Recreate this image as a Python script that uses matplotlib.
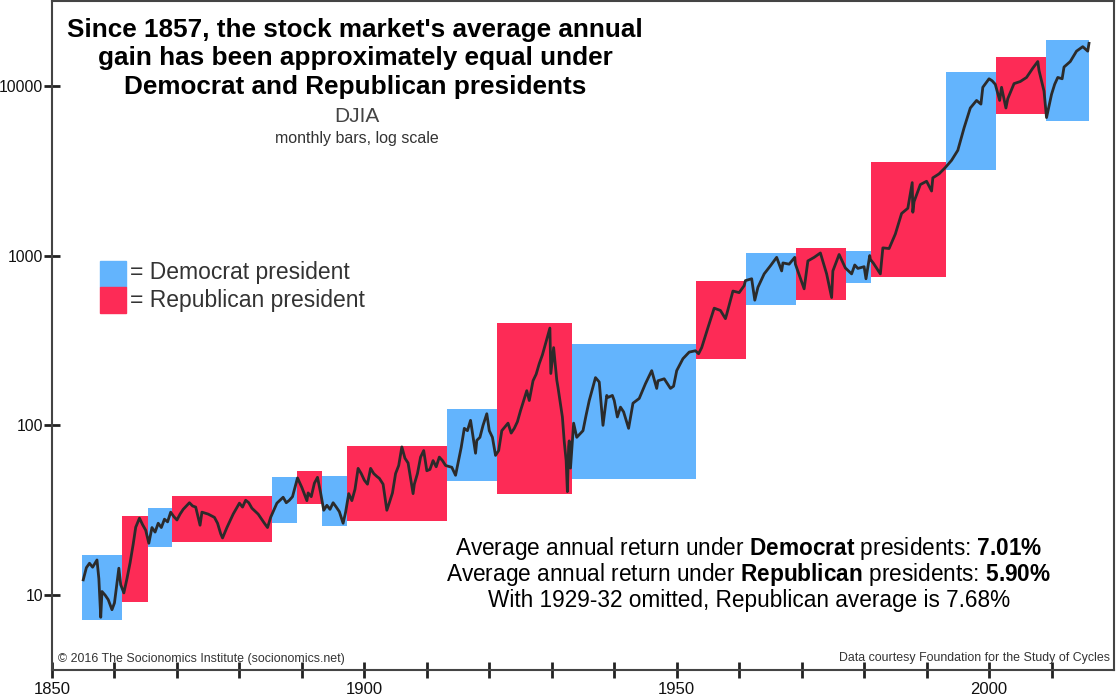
import matplotlib.pyplot as plt

plt.rcParams['font.family'] = ['Liberation Sans', 'DejaVu Sans']
plt.rcParams['mathtext.fontset'] = 'custom'
plt.rcParams['mathtext.rm'] = 'Liberation Sans'
plt.rcParams['mathtext.bf'] = 'Liberation Sans:bold'

# presidential terms (boxes span the DJIA range in each stretch of one party)
term_start = [1854.8, 1861.2, 1865.3, 1869.2, 1885.2, 1889.2, 1893.2, 1897.2, 1913.2, 1921.2,
              1933.2, 1953.1, 1961.1, 1969.1, 1977.1, 1981.1, 1993.1, 2001.1, 2009.1]
term_end = term_start[1:] + [2016.0]
party = ['D', 'R', 'D', 'R', 'D', 'R', 'D', 'R', 'D', 'R',
         'D', 'R', 'D', 'R', 'D', 'R', 'D', 'R', 'D']
term_low = [7.1, 9.1, 19.1, 20.5, 26.5, 34.3, 25.5, 27.3, 46.9, 39.3,
            48.2, 247, 509, 550, 694, 751, 3180, 6800, 6240]
term_high = [17.2, 29.2, 32.5, 38.2, 49.4, 53.5, 50, 76, 124, 398,
             303, 712, 1036, 1101, 1058, 3560, 12030, 14800, 18500]

# DJIA
djia_year = [1855.0, 1855.5, 1856.0, 1856.5, 1857.2, 1857.5, 1857.8, 1858.0, 1858.5, 1859.0,
             1859.6, 1860.0, 1860.7, 1861.0, 1861.5, 1862.0, 1862.5, 1863.0, 1863.4, 1864.0,
             1864.5, 1865.0, 1865.5, 1866.0, 1866.5, 1867.0, 1867.5, 1868.0, 1868.5, 1869.0,
             1869.5, 1870.0, 1870.5, 1871.0, 1872.0, 1872.5, 1873.0, 1873.7, 1874.0, 1875.0,
             1876.0, 1876.5, 1877.0, 1877.3, 1878.0, 1879.0, 1880.0, 1880.5, 1881.0, 1881.5,
             1882.0, 1883.0, 1884.0, 1884.5, 1885.0, 1886.0, 1887.0, 1887.5, 1888.0, 1888.5,
             1889.0, 1889.3, 1890.0, 1890.8, 1891.0, 1891.5, 1892.0, 1892.5, 1893.0, 1893.5,
             1894.0, 1894.5, 1895.0, 1895.5, 1896.0, 1896.6, 1897.0, 1897.5, 1898.0, 1898.5,
             1899.0, 1899.5, 1900.0, 1900.5, 1901.0, 1901.5, 1902.0, 1902.4, 1903.0, 1903.6,
             1904.0, 1904.5, 1905.0, 1905.5, 1906.0, 1906.5, 1907.0, 1907.8, 1908.0, 1908.5,
             1909.0, 1909.5, 1910.0, 1910.5, 1911.0, 1911.5, 1912.0, 1912.5, 1913.0, 1914.0,
             1914.6, 1915.0, 1915.5, 1916.0, 1916.5, 1917.0, 1917.8, 1918.0, 1918.5, 1919.0,
             1919.6, 1920.0, 1920.5, 1921.0, 1921.5, 1922.0, 1923.0, 1923.5, 1924.0, 1924.5,
             1925.0, 1925.5, 1926.0, 1926.4, 1927.0, 1927.5, 1928.0, 1928.5, 1929.0, 1929.7,
             1929.85, 1930.3, 1930.8, 1931.0, 1931.7, 1932.0, 1932.3, 1932.5, 1932.7, 1932.8,
             1933.0, 1933.5, 1934.0, 1935.0, 1935.5, 1936.0, 1937.0, 1937.6, 1938.2, 1938.8,
             1939.0, 1939.7, 1940.0, 1940.5, 1941.0, 1941.5, 1942.3, 1943.0, 1944.0, 1945.0,
             1946.0, 1946.8, 1947.0, 1948.0, 1949.0, 1949.5, 1950.0, 1951.0, 1952.0, 1953.0,
             1953.5, 1954.0, 1955.0, 1956.0, 1957.0, 1957.8, 1958.0, 1959.0, 1960.0, 1960.8,
             1961.0, 1962.0, 1962.5, 1963.0, 1964.0, 1965.0, 1966.0, 1966.8, 1967.0, 1968.0,
             1968.9, 1969.0, 1970.4, 1971.0, 1972.0, 1973.0, 1973.5, 1974.0, 1974.8, 1975.0,
             1976.0, 1977.0, 1978.0, 1978.5, 1979.0, 1980.0, 1980.3, 1980.9, 1981.0, 1981.5,
             1982.6, 1983.0, 1984.0, 1985.0, 1986.0, 1987.0, 1987.7, 1987.8, 1988.0, 1989.0,
             1990.0, 1990.8, 1991.0, 1992.0, 1993.0, 1994.0, 1995.0, 1996.0, 1997.0, 1998.0,
             1998.7, 1999.0, 2000.0, 2000.5, 2001.0, 2001.7, 2002.0, 2002.7, 2003.0, 2004.0,
             2005.0, 2006.0, 2007.0, 2007.8, 2008.0, 2008.8, 2009.2, 2010.0, 2010.5, 2011.0,
             2011.7, 2012.0, 2013.0, 2014.0, 2015.0, 2015.8, 2016.0]
djia_value = [12.3, 14.5, 15.4, 14.6, 16.1, 12.5, 7.4, 10.5, 10.0, 9.4,
              8.2, 9.0, 14.4, 11.5, 10.3, 12.5, 15.5, 20.0, 25.1, 28.4,
              26.0, 24.1, 20.2, 25.0, 23.5, 26.5, 25.0, 28.0, 27.0, 30.8,
              29.0, 27.7, 30.0, 32.0, 35.0, 33.5, 33.0, 25.8, 30.8, 30.0,
              28.7, 26.5, 23.0, 21.7, 25.0, 30.0, 34.8, 33.0, 36.2, 35.0,
              32.5, 30.0, 26.5, 25.0, 28.7, 34.8, 37.7, 35.0, 36.2, 38.0,
              44.4, 49.0, 43.0, 36.0, 40.0, 38.0, 45.6, 49.4, 40.0, 31.6,
              33.8, 32.0, 35.0, 33.0, 31.0, 26.5, 30.8, 39.6, 36.0, 42.0,
              55.8, 52.0, 47.5, 45.0, 55.8, 52.0, 50.0, 48.7, 45.0, 31.6,
              35.0, 40.0, 52.0, 58.0, 74.6, 64.0, 60.0, 39.6, 45.0, 52.0,
              65.0, 71.0, 54.0, 55.0, 62.0, 57.0, 65.0, 62.0, 58.0, 56.6,
              50.8, 60.0, 74.0, 96.0, 93.0, 107.0, 68.5, 81.5, 85.0, 100.0,
              117.0, 93.0, 85.0, 66.5, 71.0, 93.0, 103.0, 90.0, 96.0, 105.0,
              122.0, 140.0, 160.0, 140.0, 183.0, 200.0, 231.0, 260.0, 302.0, 374.0,
              202.0, 287.0, 185.0, 167.0, 112.0, 80.0, 62.0, 40.7, 75.0, 81.0,
              56.0, 103.0, 85.0, 93.0, 115.0, 140.0, 191.0, 180.0, 100.0, 150.0,
              146.0, 150.0, 140.0, 112.0, 128.0, 120.0, 96.0, 135.0, 144.0, 176.0,
              210.0, 165.0, 183.0, 188.0, 165.0, 170.0, 210.0, 247.0, 270.0, 275.0,
              264.0, 287.0, 376.0, 490.0, 475.0, 425.0, 450.0, 618.0, 605.0, 665.0,
              712.0, 730.0, 546.0, 650.0, 780.0, 870.0, 976.0, 812.0, 905.0, 890.0,
              976.0, 890.0, 637.0, 930.0, 976.0, 1036.0, 900.0, 780.0, 566.0, 812.0,
              1015.0, 845.0, 780.0, 880.0, 840.0, 860.0, 730.0, 1000.0, 950.0, 900.0,
              780.0, 1110.0, 1100.0, 1340.0, 1770.0, 1900.0, 2690.0, 1800.0, 2080.0, 2620.0,
              2740.0, 2400.0, 2870.0, 3030.0, 3300.0, 3640.0, 4170.0, 5650.0, 7400.0, 8200.0,
              7800.0, 9800.0, 11000.0, 10700.0, 10200.0, 8200.0, 9800.0, 7400.0, 8400.0, 10300.0,
              10600.0, 11200.0, 12700.0, 13900.0, 12300.0, 9300.0, 6500.0, 8900.0, 10200.0, 11200.0,
              11000.0, 12900.0, 13900.0, 16000.0, 17000.0, 16000.0, 17800.0]

blue = '#63b4fd'
red = '#fd2b56'
colors = {'D': blue, 'R': red}

fig = plt.figure(figsize=(11.16, 6.98), dpi=100)
ax = fig.add_axes([0.0466, 0.0401, 0.9516, 0.9585])

widths = [e - s for s, e in zip(term_start, term_end)]
heights = [h - l for l, h in zip(term_low, term_high)]
ax.bar(term_start, heights, width=widths, bottom=term_low, align='edge',
       color=[colors[p] for p in party], linewidth=0, zorder=1)
ax.plot(djia_year, djia_value, color='#2b2b2b', lw=2, zorder=2)

ax.set_yscale('log')
ax.set_xlim(1850, 2020)
ax.set_ylim(3.62, 31600)

xt = list(range(1850, 2020, 10))
ax.set_xticks(xt)
ax.set_xticklabels([str(y) if y % 50 == 0 else '' for y in xt])
ax.set_yticks([10, 100, 1000, 10000])
ax.set_yticklabels(['10', '100', '1000', '10000'])
ax.minorticks_off()
ax.tick_params(direction='inout', length=11, width=2, color='#222222',
               labelsize=12, labelcolor='#111111')
ax.tick_params(axis='x', pad=3)
ax.tick_params(axis='y', pad=1, labelsize=11.3)
for s in ax.spines.values():
    s.set_color('#444444')
    s.set_linewidth(1.5)

# title block
title_lines = ["Since 1857, the stock market's average annual",
               "gain has been approximately equal under",
               "Democrat and Republican presidents"]
for i, line in enumerate(title_lines):
    fig.text(355 / 1116, 1 - (30 + 28.5 * i) / 698, line, ha='center', va='center',
             fontsize=18.8, fontweight='bold', color='black')
fig.text(357 / 1116, 1 - 116 / 698, 'DJIA', ha='center', va='center',
         fontsize=15, color='#444444')
fig.text(357 / 1116, 1 - 139 / 698, 'monthly bars, log scale', ha='center', va='center',
         fontsize=11.5, color='#333333')

# legend
fig.patches.append(plt.Rectangle((100 / 1116, 1 - 287 / 698), 26 / 1116, 26 / 698,
                                 transform=fig.transFigure, color=blue))
fig.patches.append(plt.Rectangle((100 / 1116, 1 - 313 / 698), 26 / 1116, 26 / 698,
                                 transform=fig.transFigure, color=red))
fig.text(130 / 1116, 1 - 273 / 698, '= Democrat president', ha='left', va='center',
         fontsize=16.5, color='#333333')
fig.text(130 / 1116, 1 - 300 / 698, '= Republican president', ha='left', va='center',
         fontsize=16.5, color='#333333')

# returns
ret_lines = [r'Average annual return under $\bf{Democrat}$ presidents: $\bf{7.01\%}$',
             r'Average annual return under $\bf{Republican}$ presidents: $\bf{5.90\%}$',
             'With 1929-32 omitted, Republican average is 7.68%']
for i, line in enumerate(ret_lines):
    fig.text(749 / 1116, 1 - (548 + 26.5 * i) / 698, line, ha='center', va='center',
             fontsize=16.3, color='black')

fig.text(58 / 1116, 1 - 659 / 698, '\u00a9 2016 The Socionomics Institute (socionomics.net)',
         ha='left', va='center', fontsize=8.9, color='#333333')
fig.text(1110 / 1116, 1 - 658 / 698, 'Data courtesy Foundation for the Study of Cycles',
         ha='right', va='center', fontsize=8.9, color='#333333')

fig.savefig('out.png', dpi=100)
